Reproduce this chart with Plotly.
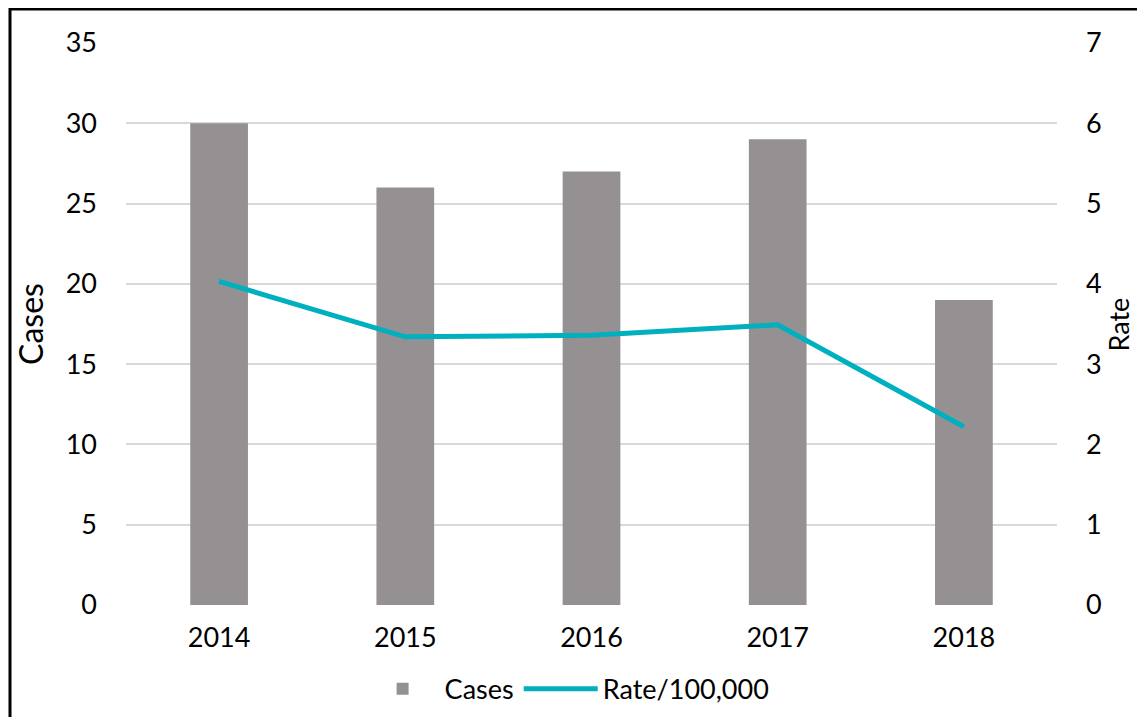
import plotly.graph_objects as go

# 年ごとの症例数と人口10万人あたりの率
years = ["2014", "2015", "2016", "2017", "2018"]
cases = [30, 26, 27, 29, 19]
rate = [4.03, 3.34, 3.36, 3.49, 2.22]

case_ticks = [0, 5, 10, 15, 20, 25, 30, 35]
rate_ticks = [0, 1, 2, 3, 4, 5, 6, 7]

FONT = "Lato"
GRID = "#D9D9D9"

fig = go.Figure()

fig.add_trace(
    go.Bar(
        x=years,
        y=cases,
        name="Cases",
        marker=dict(color="#959193", line=dict(width=0)),
        width=0.31,
    )
)

fig.add_trace(
    go.Scatter(
        x=years,
        y=rate,
        mode="lines",
        name="Rate/100,000",
        line=dict(color="#00B0BE", width=5),
        yaxis="y2",
    )
)

# ページ本体の8pxの余白でスクロールバーが出ないサイズ
fig.update_layout(
    width=1129,
    height=709,
    margin=dict(l=118, r=80, t=35, b=112, autoexpand=False),
    paper_bgcolor="white",
    plot_bgcolor="white",
    font=dict(family=FONT, size=27, color="black"),
    showlegend=True,
    legend=dict(
        orientation="h",
        x=0.252,
        xanchor="left",
        y=-0.15,
        yanchor="middle",
        font=dict(size=27),
        itemwidth=74,
        traceorder="normal",
    ),
    xaxis=dict(
        showgrid=False,
        showline=False,
        ticks="",
        ticklabelstandoff=14,
        automargin=False,
    ),
    yaxis=dict(
        range=[0, 35],
        tickvals=case_ticks,
        showgrid=True,
        gridcolor=GRID,
        gridwidth=2,
        zeroline=False,
        showline=False,
        ticklabelstandoff=28,
        automargin=False,
        title=dict(text="Cases", standoff=12),
    ),
    yaxis2=dict(
        range=[0, 7],
        tickvals=rate_ticks,
        overlaying="y",
        side="right",
        showgrid=False,
        zeroline=False,
        showline=False,
        ticklabelstandoff=28,
        automargin=False,
    ),
    # 右軸タイトルは位置を合わせるため注釈で配置
    annotations=[
        dict(
            text="Rate",
            xref="paper",
            yref="paper",
            x=1.066,
            y=0.5,
            xanchor="center",
            yanchor="middle",
            textangle=-90,
            showarrow=False,
            font=dict(size=27),
        )
    ],
    shapes=[
        # 外枠（左と上のみ見える）
        dict(
            type="rect",
            xref="paper",
            yref="paper",
            x0=-0.1246,
            x1=1.2,
            y0=-0.3,
            y1=1.0605,
            line=dict(color="black", width=3),
            fillcolor="rgba(0,0,0,0)",
            layer="above",
        )
    ],
)

fig.write_html("out.html")
